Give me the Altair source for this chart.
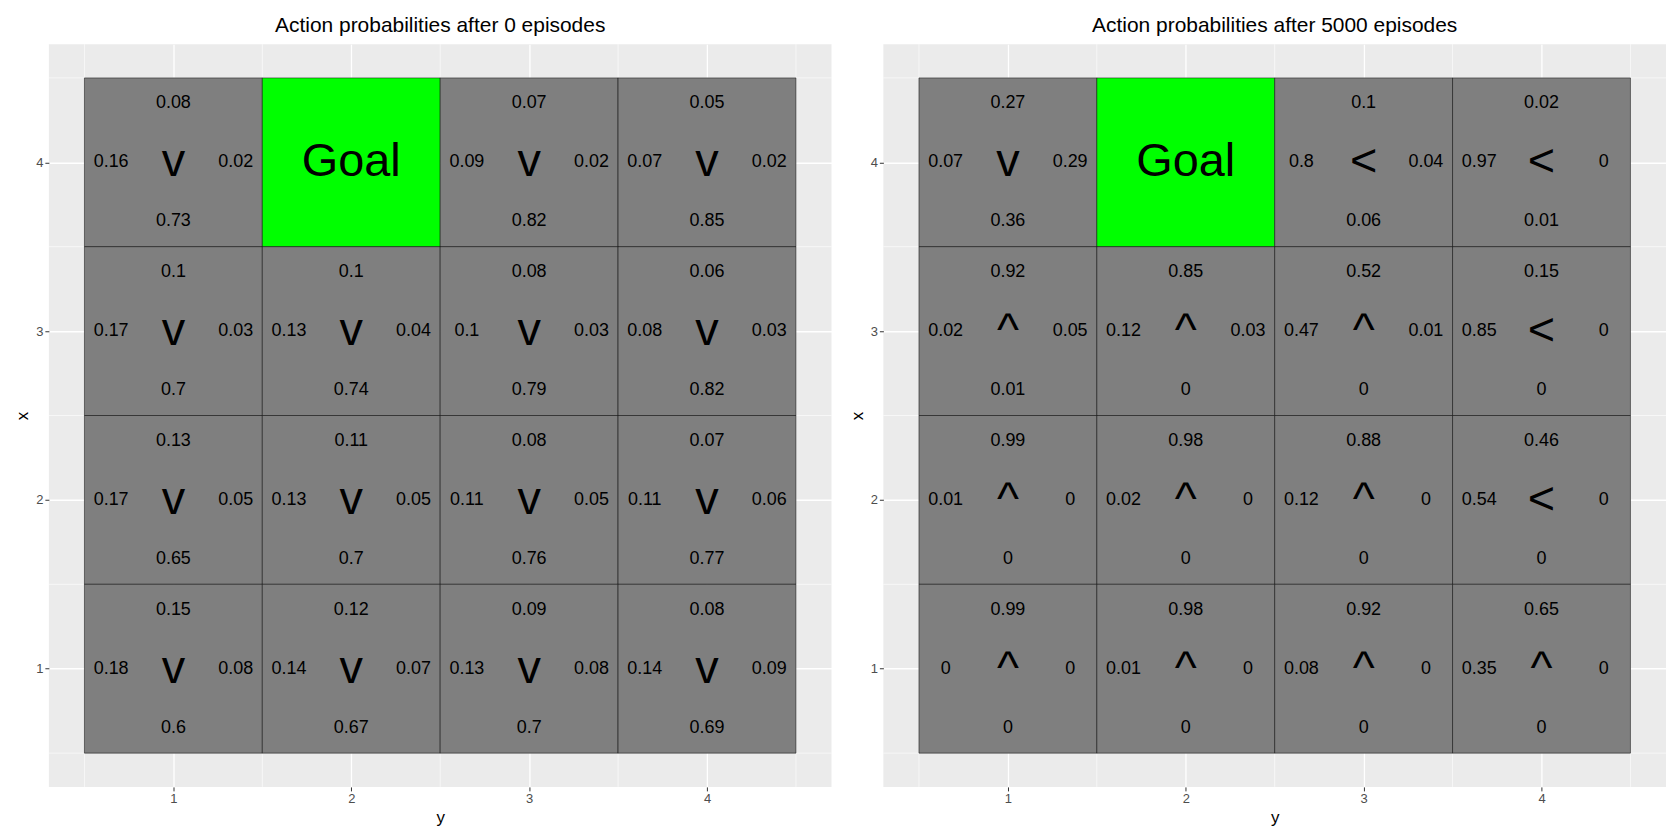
import altair as alt
import pandas as pd

# cell order: rows x = 4..1, columns y = 1..4 ; (up, left, right, down)
rows = [4, 4, 4, 4, 3, 3, 3, 3, 2, 2, 2, 2, 1, 1, 1, 1]
cols = [1, 2, 3, 4] * 4

up_0 = [0.08, None, 0.07, 0.05, 0.1, 0.1, 0.08, 0.06, 0.13, 0.11, 0.08, 0.07, 0.15, 0.12, 0.09, 0.08]
left_0 = [0.16, None, 0.09, 0.07, 0.17, 0.13, 0.1, 0.08, 0.17, 0.13, 0.11, 0.11, 0.18, 0.14, 0.13, 0.14]
right_0 = [0.02, None, 0.02, 0.02, 0.03, 0.04, 0.03, 0.03, 0.05, 0.05, 0.05, 0.06, 0.08, 0.07, 0.08, 0.09]
down_0 = [0.73, None, 0.82, 0.85, 0.7, 0.74, 0.79, 0.82, 0.65, 0.7, 0.76, 0.77, 0.6, 0.67, 0.7, 0.69]
arrow_0 = ["v", "", "v", "v"] + ["v"] * 12

up_1 = [0.27, None, 0.1, 0.02, 0.92, 0.85, 0.52, 0.15, 0.99, 0.98, 0.88, 0.46, 0.99, 0.98, 0.92, 0.65]
left_1 = [0.07, None, 0.8, 0.97, 0.02, 0.12, 0.47, 0.85, 0.01, 0.02, 0.12, 0.54, 0, 0.01, 0.08, 0.35]
right_1 = [0.29, None, 0.04, 0, 0.05, 0.03, 0.01, 0, 0, 0, 0, 0, 0, 0, 0, 0]
down_1 = [0.36, None, 0.06, 0.01, 0.01, 0, 0, 0, 0, 0, 0, 0, 0, 0, 0, 0]
arrow_1 = ["v", "", "<", "<", "^", "^", "^", "<", "^", "^", "^", "<", "^", "^", "^", "^"]

goal_x, goal_y = 4, 2
FONT = "Liberation Sans"


def fmt(v):
    if v is None:
        return ""
    return f"{v:g}"


def make_axis(title):
    return alt.Axis(values=[1, 2, 3, 4], format="d", title=title, gridColor="white", gridWidth=1.3,
                    domain=False, tickColor="#333", tickSize=4, labelColor="#4d4d4d",
                    labelFontSize=13, titleFontSize=17, titleFontWeight="normal",
                    labelFont=FONT, titleFont=FONT, titleColor="black")


def panel(title, up, left, right, down, arrow):
    df = pd.DataFrame({
        "x": rows, "y": cols,
        "up": [fmt(v) for v in up], "left": [fmt(v) for v in left],
        "right": [fmt(v) for v in right], "down": [fmt(v) for v in down],
        "arrow": arrow,
        "goal": [(r == goal_x and c == goal_y) for r, c in zip(rows, cols)],
    })
    xs = alt.Scale(domain=[0.3, 4.7], nice=False, zero=False)
    xaxis = make_axis("y")
    yaxis = make_axis("x")
    base = alt.Chart(df).transform_calculate(
        x0="datum.x - 0.5", x1="datum.x + 0.5", y0="datum.y - 0.5", y1="datum.y + 0.5",
        xu="datum.x + 0.35", xd="datum.x - 0.35", yl="datum.y - 0.35", yr="datum.y + 0.35",
    )
    minor = alt.Chart(pd.DataFrame({"m": [0.5, 1.5, 2.5, 3.5, 4.5]}))
    vminor = minor.mark_rule(color="white", strokeWidth=0.6).encode(x=alt.X("m:Q", scale=xs, axis=xaxis))
    hminor = minor.mark_rule(color="white", strokeWidth=0.6).encode(y=alt.Y("m:Q", scale=xs, axis=yaxis))
    rect = base.mark_rect(stroke="black", strokeWidth=0.5).encode(
        x=alt.X("y0:Q", scale=xs, axis=xaxis), x2="y1:Q",
        y=alt.Y("x0:Q", scale=xs, axis=yaxis), y2="x1:Q",
        fill=alt.condition("datum.goal", alt.value("#00ff00"), alt.value("#7f7f7f")),
    )

    def txt(xf, yf, field, size):
        return base.mark_text(fontSize=size, font=FONT, color="black", baseline="middle").encode(
            x=alt.X(f"{yf}:Q", scale=xs), y=alt.Y(f"{xf}:Q", scale=xs), text=f"{field}:N")

    goal = base.transform_filter("datum.goal").mark_text(
        text="Goal", fontSize=47, font=FONT, color="black", baseline="middle").encode(
        x=alt.X("y:Q", scale=xs), y=alt.Y("x:Q", scale=xs))
    layers = [vminor, hminor, rect,
              txt("xu", "y", "up", 18), txt("xd", "y", "down", 18),
              txt("x", "yl", "left", 18), txt("x", "yr", "right", 18),
              txt("x", "y", "arrow", 47), goal]
    return alt.layer(*layers).properties(
        width=785, height=745,
        title=alt.TitleParams(title, fontSize=21, font=FONT, fontWeight="normal", anchor="middle"),
    )


left_chart = panel("Action probabilities after  0  episodes", up_0, left_0, right_0, down_0, arrow_0)
right_chart = panel("Action probabilities after  5000  episodes", up_1, left_1, right_1, down_1, arrow_1)

chart = alt.hconcat(left_chart, right_chart, spacing=15).configure_view(
    fill="#ebebeb", stroke=None
).configure_title(offset=8)

chart.save("out.html", embed_options={"renderer": "svg", "actions": False})
